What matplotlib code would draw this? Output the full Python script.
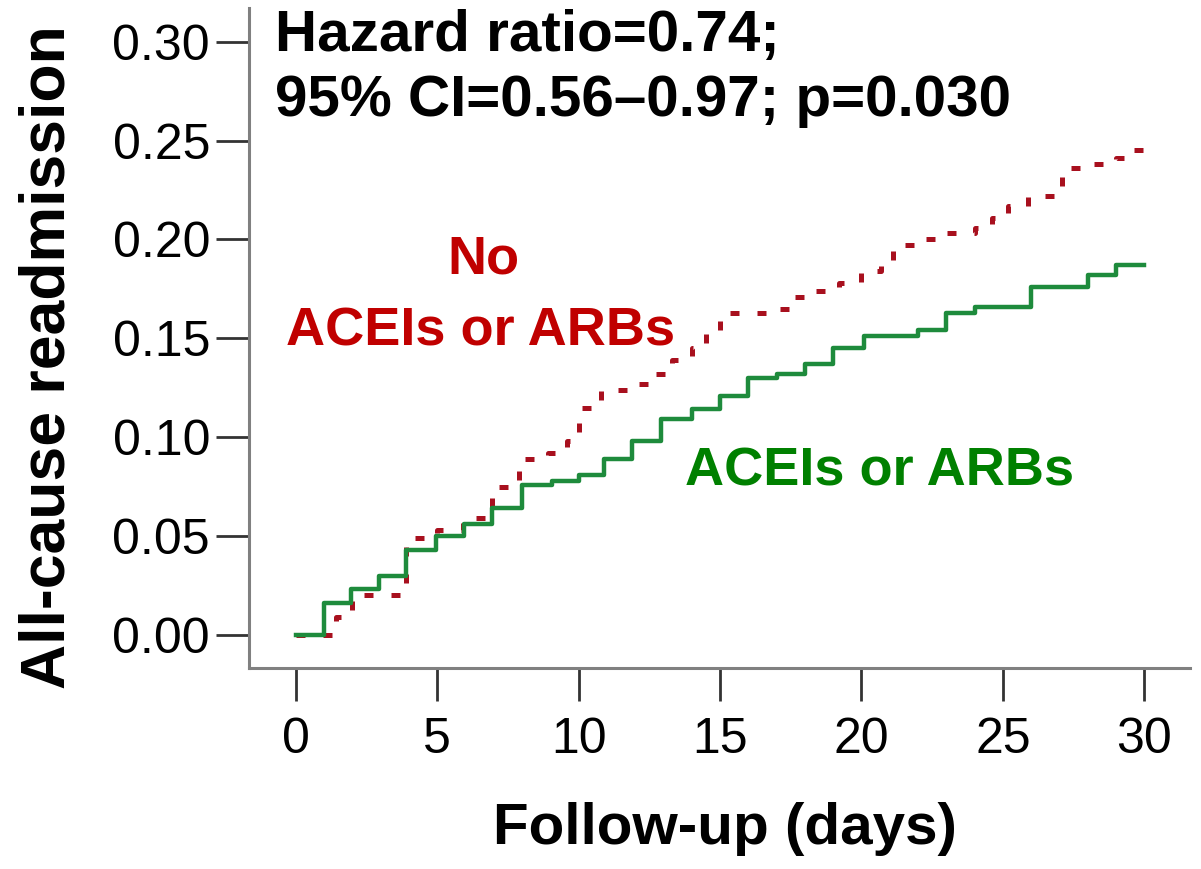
import matplotlib
matplotlib.use("Agg")
import matplotlib.pyplot as plt

plt.rcParams['font.family'] = ['Liberation Sans', 'DejaVu Sans']

# ---- data ----
days_ace = [0, 1.0, 1.95, 2.95, 3.9, 4.95, 5.95, 6.95, 7.98, 9.05, 10.0, 10.9, 11.9,
            12.9, 14.0, 15.0, 16.0, 17.0, 18.0, 19.0, 20.1, 22.0, 23.0, 24.0, 26.0,
            28.0, 29.0, 30.0]
risk_ace = [0, 0.016, 0.023, 0.030, 0.043, 0.050, 0.056, 0.064, 0.076, 0.078, 0.081,
            0.089, 0.098, 0.109, 0.114, 0.121, 0.130, 0.132, 0.137, 0.145, 0.151,
            0.154, 0.163, 0.166, 0.176, 0.182, 0.187, 0.187]

days_no = [0, 1.4, 2.0, 3.9, 5.0, 5.9, 6.95, 7.9, 8.9, 9.6, 10.0, 10.8, 12.0, 12.6,
           13.3, 14.0, 14.5, 15.0, 17.0, 17.5, 18.4, 19.2, 20.0, 20.7, 21.1, 22.0,
           23.0, 24.0, 24.6, 25.2, 25.9, 27.1, 28.0, 29.0, 29.6, 30.0]
risk_no = [0, 0.009, 0.020, 0.049, 0.053, 0.059, 0.075, 0.089, 0.092, 0.098, 0.115,
           0.124, 0.127, 0.132, 0.139, 0.145, 0.152, 0.163, 0.165, 0.171, 0.174,
           0.178, 0.184, 0.189, 0.197, 0.200, 0.203, 0.206, 0.211, 0.217, 0.222,
           0.236, 0.238, 0.241, 0.245, 0.249]

x_ticks = [0, 5, 10, 15, 20, 25, 30]
y_ticks = [0.00, 0.05, 0.10, 0.15, 0.20, 0.25, 0.30]
y_tick_labels = ["0.00", "0.05", "0.10", "0.15", "0.20", "0.25", "0.30"]

W, H = 1201, 869
fig = plt.figure(figsize=(W / 100, H / 100), dpi=100)
ax = fig.add_axes([249 / W, 1 - 668 / H, (1190 - 249) / W, (668 - 8) / H])

ax.step(days_no, risk_no, where='post', color='#A8101E', lw=3.6,
        linestyle=(0, (1.8, 3.6)), zorder=2)
ax.step(days_ace, risk_ace, where='post', color='#1E8B3C', lw=3.2, zorder=3)

ax.set_xlim(-1.66, 31.62)
ax.set_ylim(-0.0167, 0.317)
ax.set_xticks(x_ticks)
ax.set_xticklabels([str(v) for v in x_ticks])
ax.set_yticks(y_ticks)
ax.set_yticklabels(y_tick_labels)

for s in ['top', 'right']:
    ax.spines[s].set_visible(False)
for s in ['left', 'bottom']:
    ax.spines[s].set_color('#808080')
    ax.spines[s].set_linewidth(2.2)

ax.tick_params(axis='both', which='major', length=24, width=2, color='#333333',
               labelsize=36, labelcolor='black')
ax.tick_params(axis='x', pad=11)
ax.tick_params(axis='y', pad=4)

ax.set_xlabel("Follow-up (days)", fontsize=42, fontweight='bold')
ax.xaxis.label.set_va('center')
ax.xaxis.set_label_coords(0.506, -0.244)
ax.set_ylabel("All-cause readmission", fontsize=45, fontweight='bold')
ax.yaxis.label.set_va('center')
ax.yaxis.set_label_coords(-0.214, 0.471)

fig.text(275 / W, 1 - 51 / H, "Hazard ratio=0.74;", fontsize=42, fontweight='bold',
         ha='left', va='baseline')
fig.text(275 / W, 1 - 116 / H, "95% CI=0.56\u20130.97; p=0.030", fontsize=42,
         fontweight='bold', ha='left', va='baseline')

fig.text(483 / W, 1 - 273 / H, "No", fontsize=39, fontweight='bold',
         color='#C00000', ha='center', va='baseline')
fig.text(481 / W, 1 - 345 / H, "ACEIs or ARBs", fontsize=39, fontweight='bold',
         color='#C00000', ha='center', va='baseline')
fig.text(880 / W, 1 - 485 / H, "ACEIs or ARBs", fontsize=39, fontweight='bold',
         color='#008000', ha='center', va='baseline')

fig.savefig("out.png", dpi=100)
